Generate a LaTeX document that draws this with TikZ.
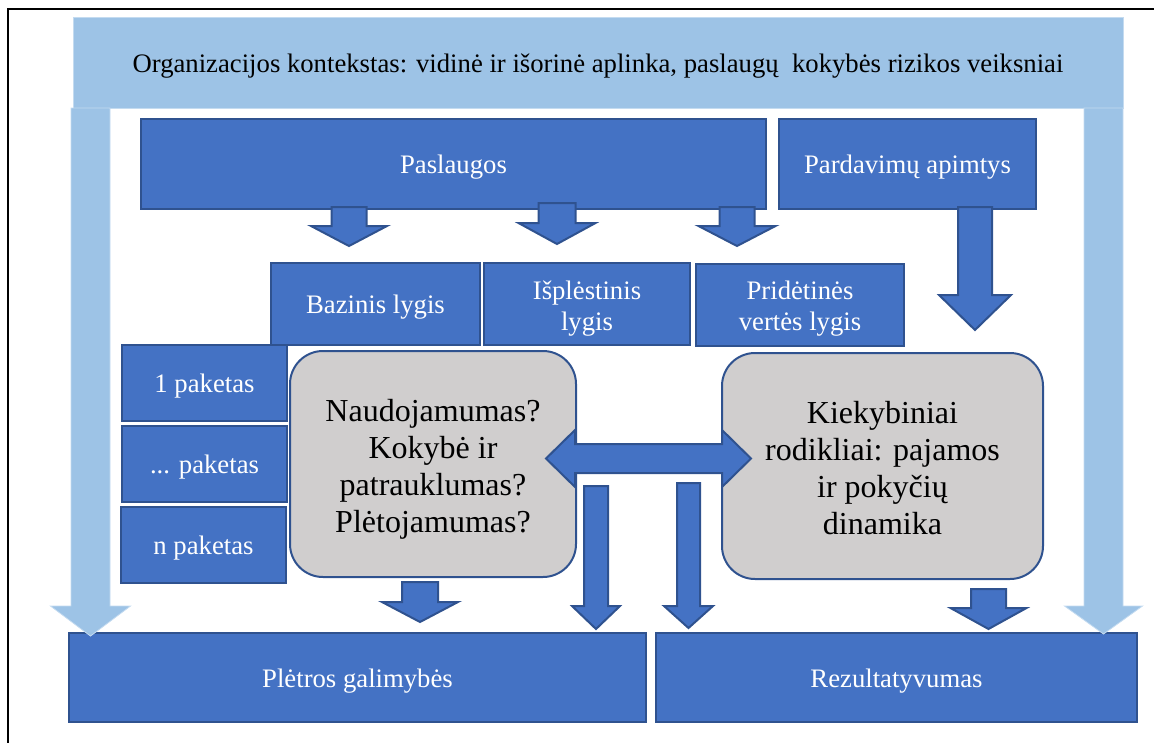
\documentclass[tikz,border=0pt]{standalone}
\usepackage{fontspec}
\setmainfont{Liberation Serif}

\definecolor{boxblue}{HTML}{4472C4}
\definecolor{boxline}{HTML}{2F528F}
\definecolor{ctxblue}{HTML}{9DC3E6}
\definecolor{askgray}{HTML}{D0CECE}

% block arrow downwards: style, x, shaft top, head top, tip, shaft half, head half
\newcommand{\downblock}[7]{%
    \filldraw[#1] ({#2-#6},#3) -- ({#2+#6},#3) -- ({#2+#6},#4) -- ({#2+#7},#4)
        -- (#2,#5) -- ({#2-#7},#4) -- ({#2-#6},#4) -- cycle;}
% strut on the first line of a multi-line node
\newcommand{\firstline}[1]{\rule{0pt}{#1}}

\begin{document}
\begin{tikzpicture}[x=1pt,y=-1pt]
    \tikzstyle{box}=[rectangle, fill=boxblue, draw=boxline, line width=2pt, text=white, align=center, inner sep=0pt, font=\fontsize{26.7}{30.5}\selectfont, execute at begin node={\rule{0pt}{25pt}}]
    \tikzstyle{ask}=[rectangle, rounded corners=33pt, fill=askgray, draw=boxline, line width=2pt, text=black, align=center, inner sep=0pt, font=\fontsize{32}{37}\selectfont]
    \tikzstyle{blockarrow}=[fill=boxblue, draw=boxline, line width=2pt, line join=miter]
    \tikzstyle{ctxarrow}=[fill=ctxblue, draw=ctxblue!60!white, line width=0.8pt]

    \useasboundingbox (0,0) rectangle (1154,742);
    \draw[line width=1.8pt] (8,9) rectangle (1180,770);

    % Context
    \node[box, fill=ctxblue, draw=ctxblue!60!white, line width=0.8pt, text=black, minimum width=1050pt, minimum height=91pt] (ctx) at (598,62.5) {Organizacijos kontekstas: vidinė ir išorinė aplinka, paslaugų\ \ kokybės rizikos veiksniai};

    % Upper row
    \node[box, minimum width=625pt, minimum height=90pt] (serv) at (453.5,164) {Paslaugos};
    \node[box, minimum width=257pt, minimum height=90pt] (sales) at (907.5,164) {Pardavimų apimtys};

    % Levels
    \node[box, minimum width=209pt, minimum height=82pt] (basic) at (375.5,304) {Bazinis lygis};
    \node[box, minimum width=206pt, minimum height=82pt] (ext) at (587,304) {\firstline{28pt}Išplėstinis\\lygis};
    \node[box, minimum width=208pt, minimum height=82pt] (added) at (800,305) {\firstline{26pt}Pridėtinės\\vertės lygis};

    % Packages
    \node[box, minimum width=165pt, minimum height=76pt] (pk1) at (204.5,383) {1 paketas};
    \node[box, minimum width=165pt, minimum height=76pt] (pk2) at (204.5,464) {... paketas};
    \node[box, minimum width=165pt, minimum height=76pt] (pkn) at (203.5,545) {n paketas};

    % Questions and indicators
    \node[ask, minimum width=286pt, minimum height=226pt] (quality) at (433,464) {\firstline{32pt}Naudojamumas?\\Kokybė ir\\patrauklumas?\\Plėtojamumas?};
    \node[ask, minimum width=321pt, minimum height=226pt] (figures) at (882.5,466) {\firstline{26pt}Kiekybiniai\\rodikliai: pajamos\\ir pokyčių\\dinamika};

    % Results
    \node[box, minimum width=577pt, minimum height=89pt] (growth) at (357.5,677.5) {Plėtros galimybės};
    \node[box, minimum width=481pt, minimum height=89pt] (result) at (896.5,677.5) {Rezultatyvumas};

    % Block arrows
    \downblock{blockarrow}{349}{207}{226}{246}{17.5}{38}
    \downblock{blockarrow}{557}{203}{223}{244}{18.5}{38.5}
    \downblock{blockarrow}{737}{207}{226}{246}{17.5}{38.5}
    \downblock{blockarrow}{975}{207}{295}{330}{17}{36}
    \downblock{blockarrow}{420}{582}{602}{622}{18}{38}
    \downblock{blockarrow}{596}{486}{606}{629}{12}{24}
    \downblock{blockarrow}{688.5}{483}{606}{628}{11.5}{24.5}
    \downblock{blockarrow}{988.5}{589}{608}{629}{17.5}{38}

    % Link between the rounded boxes
    \filldraw[blockarrow] (546,458.5) -- (575,430) -- (575,444) -- (722,444) -- (722,430) -- (751,458.5)
        -- (722,487) -- (722,473) -- (575,473) -- (575,487) -- cycle;

    % Context sides
    \downblock{ctxarrow}{90.5}{108}{606}{636}{19.5}{40}
    \downblock{ctxarrow}{1103.5}{108}{606}{634}{19.5}{39}
\end{tikzpicture}
\end{document}
